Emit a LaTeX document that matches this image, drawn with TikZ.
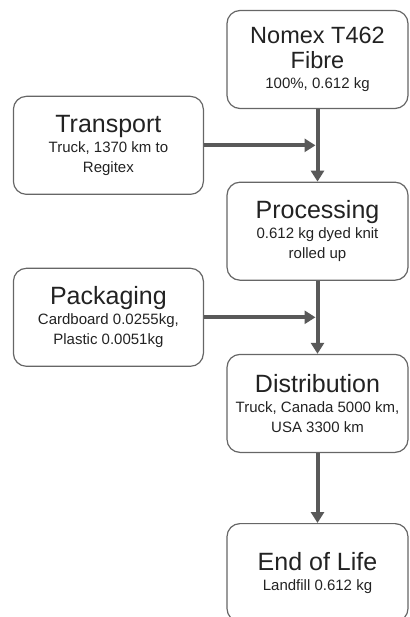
\documentclass[tikz,border=0pt]{standalone}
\usepackage{fontspec}
\setmainfont{Liberation Sans}
\usetikzlibrary{positioning, arrows.meta, calc}
\definecolor{boxgray}{HTML}{666666}
\definecolor{arrgray}{HTML}{595959}
\definecolor{txtgray}{HTML}{222222}
\newcommand{\ttl}{\fontsize{25pt}{28pt}\selectfont}
\tikzset{
  lcblk/.style={draw=boxgray, line width=1.2pt, rounded corners=13pt, align=center,
                text=txtgray, font=\fontsize{15pt}{20pt}\selectfont, inner sep=3pt},
  lcmain/.style={lcblk, minimum width=181pt, minimum height=98pt},
  lcside/.style={lcblk, minimum width=190pt, minimum height=98pt},
  lcarr/.style={-{Triangle[length=11pt, width=13pt]}, line width=4pt, draw=arrgray},
}
\begin{document}
\begin{tikzpicture}[node distance=72pt]
  \useasboundingbox (0,0) rectangle (409pt,-617pt);
  % main chain
  \node[lcmain] (nomex) at (317.5pt,-59.5pt)
    {{\fontsize{23.5pt}{26pt}\selectfont Nomex T462}\\[5pt]{\fontsize{23.5pt}{26pt}\selectfont Fibre}\\100\%, 0.612 kg};
  \node[lcmain, below=72.5pt of nomex] (proc) {{\ttl Processing}\\0.612 kg dyed knit\\rolled up};
  \node[lcmain, below=73pt of proc] (dist) {{\ttl Distribution}\\Truck, Canada 5000 km,\\USA 3300 km};
  \node[lcmain, below=70pt of dist] (eol) {{\ttl End of Life}\\Landfill 0.612 kg};
  % side inputs
  \coordinate (j1) at ($(nomex.south)!0.5!(proc.north)$);
  \coordinate (j2) at ($(proc.south)!0.5!(dist.north)$);
  \node[lcside, left=113.5pt of j1] (trans) {{\ttl Transport}\\Truck, 1370 km to\\Regitex};
  \node[lcside, left=113.5pt of j2] (pack) {{\ttl Packaging}\\Cardboard 0.0255kg,\\Plastic 0.0051kg};
  \draw[lcarr] (nomex) -- (proc);
  \draw[lcarr] (proc) -- (dist);
  \draw[lcarr] (dist) -- (eol);
  \draw[lcarr, shorten >=2pt] (trans) -- (j1);
  \draw[lcarr, shorten >=2pt] (pack) -- (j2);
\end{tikzpicture}
\end{document}
